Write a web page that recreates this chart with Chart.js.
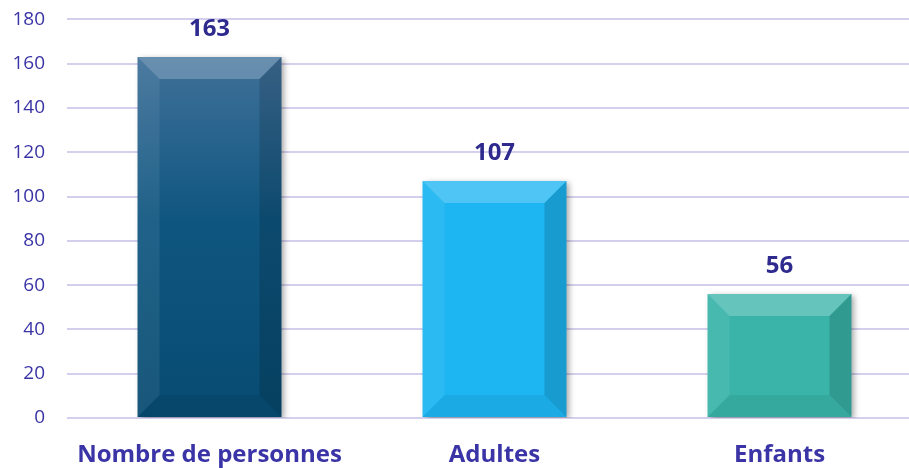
<!DOCTYPE html>
<html>
<head>
<meta charset="utf-8">
<script src="https://cdn.jsdelivr.net/npm/chart.js@4.4.1/dist/chart.umd.min.js"></script>
<style>
  html, body { margin: 0; padding: 0; background: #fff; overflow: hidden; }
  canvas { display: block; margin-top: -14px; }
</style>
</head>
<body>
<canvas id="chart" width="922" height="482"></canvas>
<script>
// -------------------------------
// DATA
// -------------------------------
const categories = ["Nombre de personnes", "Adultes", "Enfants"];
const values = [163, 107, 56];
const yTicks = { min: 0, max: 180, step: 20 };

const barColors = ["#125680", "#1DB5F2", "#3AB4A8"];
const textColor = "#2E2A8E";
const gridColor = "#D3CFEC";
const fontFamily = "'Open Sans', Lato, sans-serif";

// -------------------------------
// BEVEL + LABEL PLUGIN
// -------------------------------
const bevelPlugin = {
    id: "bevel",
    beforeDatasetDraw(chart) {
        const ctx = chart.ctx;
        ctx.save();
        ctx.shadowColor = "rgba(0,0,0,0.35)";
        ctx.shadowBlur = 6;
        ctx.shadowOffsetX = 3;
        ctx.shadowOffsetY = 2;
    },
    afterDatasetDraw(chart) {
        const ctx = chart.ctx;
        ctx.restore();
        const meta = chart.getDatasetMeta(0);
        meta.data.forEach((bar, i) => {
            const l = bar.x - bar.width / 2, r = bar.x + bar.width / 2;
            const t = bar.y, b = bar.base;
            const s = Math.min(22, (b - t) / 2);
            const face = (pts, color) => {
                ctx.beginPath();
                ctx.moveTo(pts[0][0], pts[0][1]);
                pts.slice(1).forEach(p => ctx.lineTo(p[0], p[1]));
                ctx.closePath();
                ctx.fillStyle = color;
                ctx.fill();
            };
            // top facet
            face([[l, t], [r, t], [r - s, t + s], [l + s, t + s]], "rgba(255,255,255,0.22)");
            // left facet
            face([[l, t], [l + s, t + s], [l + s, b - s], [l, b]], "rgba(255,255,255,0.07)");
            // right facet
            face([[r, t], [r, b], [r - s, b - s], [r - s, t + s]], "rgba(0,0,0,0.14)");
            // bottom facet
            face([[l, b], [l + s, b - s], [r - s, b - s], [r, b]], "rgba(0,0,0,0.06)");

            // value label
            ctx.fillStyle = textColor;
            ctx.font = "bold 24px " + fontFamily;
            ctx.textAlign = "center";
            ctx.textBaseline = "middle";
            ctx.fillText(values[i], bar.x, bar.y - 28);
        });
    }
};

// -------------------------------
// CHART
// -------------------------------
const ctx = document.getElementById("chart");

new Chart(ctx, {
    type: "bar",
    data: {
        labels: categories,
        datasets: [{
            data: values,
            backgroundColor: (c) => {
                const area = c.chart.chartArea;
                if (!area) return barColors[c.dataIndex];
                if (c.dataIndex === 0) {
                    const g = c.chart.ctx.createLinearGradient(0, area.top + 40, 0, area.bottom);
                    g.addColorStop(0, "#3F7099");
                    g.addColorStop(0.45, "#0F5680");
                    g.addColorStop(1, "#074B71");
                    return g;
                }
                return barColors[c.dataIndex];
            },
            borderWidth: 0,
            barPercentage: 1,
            categoryPercentage: 0.505
        }]
    },
    plugins: [bevelPlugin],
    options: {
        responsive: false,
        animation: false,
        devicePixelRatio: 1,
        layout: { padding: 0 },
        plugins: {
            legend: { display: false },
            tooltip: { enabled: false }
        },
        scales: {
            x: {
                grid: { display: false, drawTicks: false },
                border: { display: false },
                afterFit: (s) => { s.height = 50; },
                ticks: {
                    color: "#3A34A6",
                    padding: 23,
                    maxRotation: 0,
                    font: { family: fontFamily, size: 24, weight: "bold" }
                }
            },
            y: {
                min: yTicks.min,
                max: yTicks.max,
                grid: { color: gridColor, lineWidth: 2, drawTicks: false },
                border: { display: false },
                afterFit: (s) => { s.width = 67; },
                ticks: {
                    stepSize: yTicks.step,
                    color: "#3A34A6",
                    padding: 22,
                    font: { family: fontFamily, size: 19 }
                }
            }
        }
    }
});
</script>
</body>
</html>
